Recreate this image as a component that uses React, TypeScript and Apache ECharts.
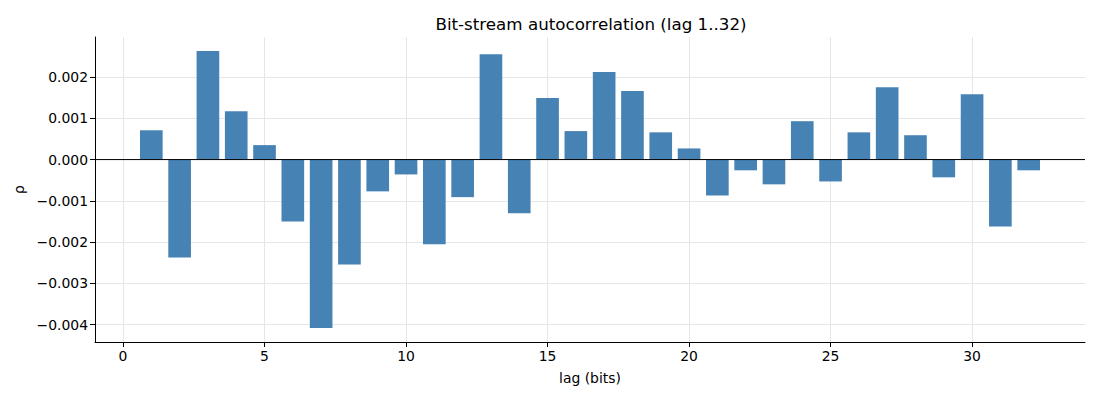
import React, { useEffect, useRef } from "react";
import * as echarts from "echarts";

const lags: number[] = [
  1, 2, 3, 4, 5, 6, 7, 8, 9, 10, 11, 12, 13, 14, 15, 16,
  17, 18, 19, 20, 21, 22, 23, 24, 25, 26, 27, 28, 29, 30, 31, 32,
];
const rho: number[] = [
  0.00071, -0.00237, 0.00263, 0.00117, 0.00035, -0.0015, -0.00408, -0.00254,
  -0.00077, -0.00036, -0.00205, -0.00091, 0.00255, -0.0013, 0.00149, 0.00069,
  0.00212, 0.00166, 0.00066, 0.00027, -0.00087, -0.00026, -0.0006, 0.00093,
  -0.00053, 0.00066, 0.00175, 0.00059, -0.00043, 0.00158, -0.00162, -0.00026,
];
const xTicks: number[] = [0, 5, 10, 15, 20, 25, 30];
const yTicks: number[] = [-0.004, -0.003, -0.002, -0.001, 0, 0.001, 0.002];

const X_MIN = -0.99;
const X_MAX = 33.99;
const Y_MIN = -0.00442;
const Y_MAX = 0.00297;
const BAR_W = 0.8;
const FONT = "DejaVu Sans, sans-serif";
const FS = 13.9;

export default function App() {
  const ref = useRef<HTMLDivElement>(null);
  useEffect(() => {
    document.body.style.margin = "0";
    if (!ref.current) return;
    const chart = echarts.init(ref.current, undefined, { renderer: "svg" });
    const fmtY = (v: number) => {
      const s = Math.abs(v) < 1e-12 ? "0.000" : v.toFixed(3);
      return s.replace("-", "\u2212");
    };
    chart.setOption({
      animation: false,
      backgroundColor: "#ffffff",
      textStyle: { fontFamily: FONT },
      title: {
        text: "Bit-stream autocorrelation (lag 1..32)",
        left: 586,
        textAlign: "center",
        top: 10,
        textStyle: { fontFamily: FONT, fontSize: 16.7, fontWeight: "normal", color: "#000" },
      },
      grid: { left: 95, right: 15, top: 37, bottom: 58, containLabel: false },
      xAxis: {
        type: "value",
        min: X_MIN,
        max: X_MAX,
        name: "lag (bits)",
        nameLocation: "middle",
        nameGap: 29,
        nameTextStyle: { fontFamily: FONT, fontSize: FS, color: "#000" },
        axisLine: { show: true, onZero: false, lineStyle: { color: "#000", width: 1 } },
        axisTick: { show: true, length: 5, inside: false, customValues: xTicks, lineStyle: { color: "#000" } },
        axisLabel: { customValues: xTicks, fontFamily: FONT, fontSize: FS, color: "#000", margin: 7, showMinLabel: true, showMaxLabel: true },
        splitLine: { show: true, lineStyle: { color: "#e6e6e6", width: 1 } },
      },
      yAxis: {
        type: "value",
        min: Y_MIN,
        max: Y_MAX,
        name: "ρ",
        nameLocation: "middle",
        nameRotate: 90,
        nameGap: 68,
        nameTextStyle: { fontFamily: FONT, fontSize: FS, color: "#000" },
        axisLine: { show: true, onZero: false, lineStyle: { color: "#000", width: 1 } },
        axisTick: { show: true, length: 5, inside: false, customValues: yTicks, lineStyle: { color: "#000" } },
        axisLabel: { customValues: yTicks, fontFamily: FONT, fontSize: FS, color: "#000", margin: 7, formatter: fmtY },
        splitLine: { show: true, lineStyle: { color: "#e6e6e6", width: 1 } },
      },
      series: [
        {
          type: "custom",
          data: lags.map((l, i) => [l, rho[i]]),
          encode: { x: 0, y: 1 },
          renderItem: (params: any, api: any) => {
            const x = api.value(0);
            const y = api.value(1);
            const p0 = api.coord([x - BAR_W / 2, 0]);
            const p1 = api.coord([x + BAR_W / 2, y]);
            return {
              type: "rect",
              shape: {
                x: Math.min(p0[0], p1[0]),
                y: Math.min(p0[1], p1[1]),
                width: Math.abs(p1[0] - p0[0]),
                height: Math.abs(p1[1] - p0[1]),
              },
              style: { fill: "#4682b4" },
            };
          },
          z: 2,
        },
        {
          type: "line",
          data: [[X_MIN, 0], [X_MAX, 0]],
          symbol: "none",
          lineStyle: { color: "#000", width: 1 },
          silent: true,
          z: 3,
        },
      ],
    });
    return () => chart.dispose();
  }, []);
  return <div ref={ref} style={{ width: 1100, height: 400 }} />;
}
